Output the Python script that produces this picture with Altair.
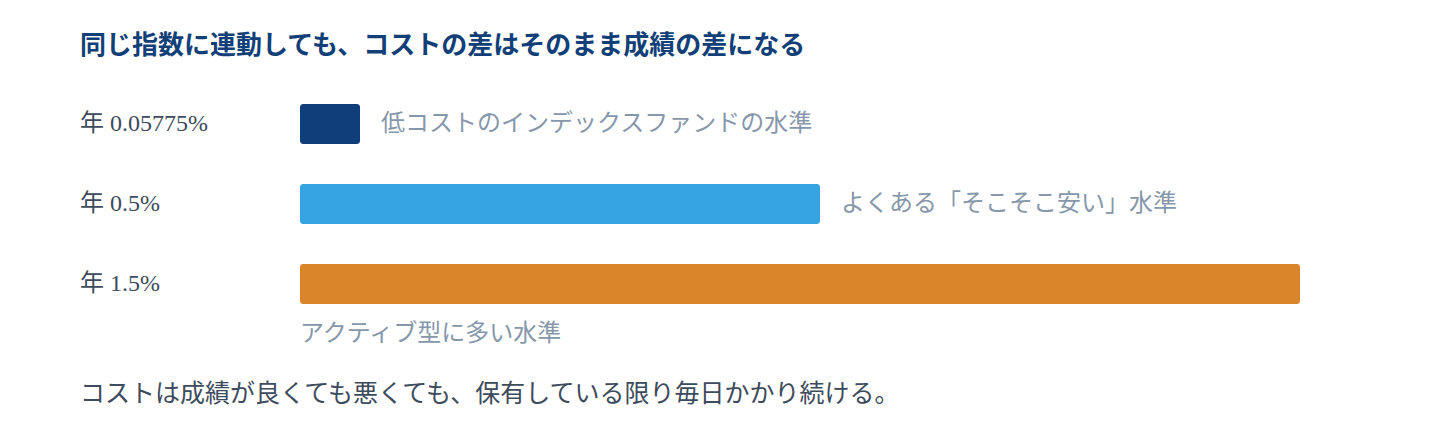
import altair as alt
import pandas as pd

# ---- data ----
labels = ["年 0.05775%", "年 0.5%", "年 1.5%"]
rates = [0.05775, 0.5, 1.5]
notes = ["低コストのインデックスファンドの水準", "よくある「そこそこ安い」水準", "アクティブ型に多い水準"]
colors = ["#0f3e7b", "#36a4e1", "#d9862b"]
title_text = "同じ指数に連動しても、コストの差はそのまま成績の差になる"
footer_text = "コストは成績が良くても悪くても、保有している限り毎日かかり続ける。"

df = pd.DataFrame({"label": labels, "rate": rates, "note": notes, "color": colors})
df_side = df.iloc[:2]
df_below = df.iloc[2:]

FONT = "Liberation Serif, Noto Sans CJK JP"

xscale = alt.Scale(domain=[0, 0.05775, 0.5, 1.5], range=[292, 352, 812, 1292], nice=False, zero=False)
x = alt.X("rate:Q", axis=None, scale=xscale)
yscale = alt.Scale(domain=labels, range=[76, 316], paddingInner=0.5, paddingOuter=0.25)
y = alt.Y("label:N", axis=None, sort=labels, scale=yscale)
ymid = alt.Y("label:N", axis=None, sort=labels, scale=yscale, bandPosition=0.5)

bars = alt.Chart(df).mark_bar(cornerRadius=3, height=40).encode(
    x=x,
    x2=alt.datum(0),
    y=y,
    color=alt.Color("color:N", scale=None),
)

row_labels = alt.Chart(df).mark_text(
    align="left", baseline="middle", font=FONT, fontSize=24, color="#3d4b5c"
).encode(x=alt.value(72), y=ymid, text="label:N")

side_notes = alt.Chart(df_side).mark_text(
    align="left", baseline="middle", font=FONT, fontSize=24, color="#8797ab", dx=21
).encode(x=x, y=ymid, text="note:N")

below_notes = alt.Chart(df_below).mark_text(
    align="left", baseline="middle", font=FONT, fontSize=24, color="#8797ab", dy=50
).encode(x=alt.datum(0), y=ymid, text="note:N")

title = alt.Chart(pd.DataFrame({"t": [title_text]})).mark_text(
    align="left", baseline="middle", font=FONT, fontSize=26, fontWeight="bold", color="#123f78"
).encode(x=alt.value(72), y=alt.value(38), text="t:N")

footer = alt.Chart(pd.DataFrame({"t": [footer_text]})).mark_text(
    align="left", baseline="middle", font=FONT, fontSize=25, color="#3d4b5c"
).encode(x=alt.value(72), y=alt.value(386), text="t:N")

chart = alt.layer(bars, row_labels, side_notes, below_notes, title, footer).properties(
    width=1424, height=424, padding=0, background="white",
    autosize=alt.AutoSizeParams(type="none"),
).configure_view(stroke=None)

chart.save("out.html", embed_options={"renderer": "svg", "actions": False})
